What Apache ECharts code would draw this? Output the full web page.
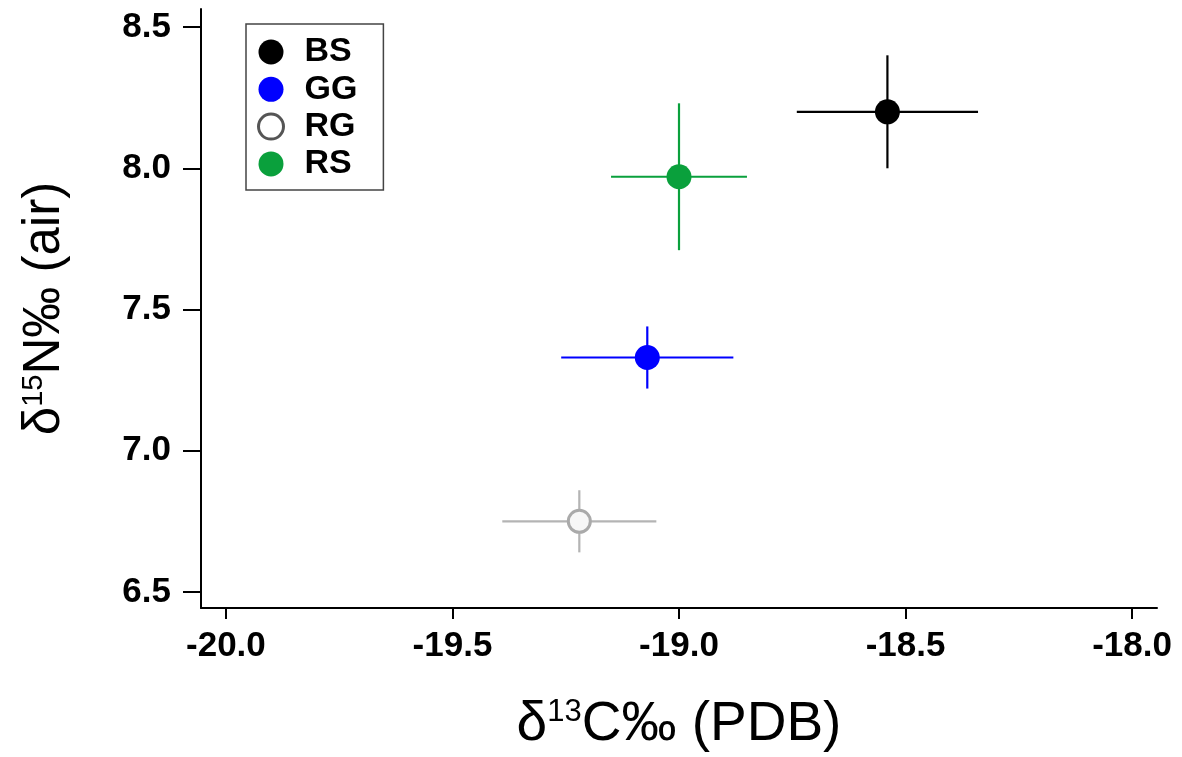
<!DOCTYPE html>
<html>
<head>
<meta charset="utf-8">
<script src="https://cdn.jsdelivr.net/npm/echarts@6/dist/echarts.min.js"></script>
<style>
  html, body { margin: 0; padding: 0; background: #fff; }
  #chart { width: 1182px; height: 757px; }
</style>
</head>
<body>
<div id="chart"></div>
<script>
// Isotope means (‰) and one standard deviation per group
const groups = ['BS', 'GG', 'RG', 'RS'];
const d13C = [-18.54, -19.07, -19.22, -19.00];
const d15N = [8.20, 7.33, 6.75, 7.97];
const sdC = [0.20, 0.19, 0.17, 0.15];
const sdN = [0.20, 0.11, 0.11, 0.26];
const xTicks = [-20.0, -19.5, -19.0, -18.5, -18.0];
const yTicks = [6.5, 7.0, 7.5, 8.0, 8.5];

// Colours per group: marker fill, marker border, error-bar stroke
const fillColors = ['#000000', '#0000ff', '#f7f7f7', '#0aa03c'];
const edgeColors = ['#000000', '#0000ff', '#aaaaaa', '#0aa03c'];
const barColors  = ['#000000', '#0000ff', '#b4b4b4', '#0aa03c'];

const FONT = '"Liberation Sans", Arial, sans-serif';

const chart = echarts.init(document.getElementById('chart'), null, { renderer: 'canvas' });

const errData = groups.map((g, i) => [d13C[i], d15N[i], sdC[i], sdN[i]]);

const pointSeries = groups.map((g, i) => ({
  name: g,
  type: 'scatter',
  z: 5,
  symbol: 'circle',
  symbolSize: g === 'RG' ? 22 : 25,
  data: [[d13C[i], d15N[i]]],
  itemStyle: {
    color: fillColors[i],
    borderColor: edgeColors[i],
    borderWidth: g === 'RG' ? 3 : 0,
    opacity: 1
  },
  emphasis: { disabled: true }
}));

const option = {
  animation: false,
  backgroundColor: '#ffffff',
  grid: { left: 201, right: 25, top: 9, bottom: 149, containLabel: false },
  legend: {
    orient: 'vertical',
    left: 246,
    top: 24,
    padding: [11, 26, 9, 11],
    backgroundColor: '#ffffff',
    borderColor: '#444444',
    borderWidth: 1.5,
    borderRadius: 0,
    itemWidth: 25,
    itemHeight: 25,
    itemGap: 3.3,
    icon: 'circle',
    selectedMode: false,
    textStyle: {
      fontFamily: FONT, fontWeight: 'bold', fontSize: 34, color: '#000',
      padding: [0, 0, 0, 16]
    },
    data: groups.map((g, i) => g === 'RG'
      ? { name: g, itemStyle: { color: '#ffffff', borderColor: '#555555', borderWidth: 3 } }
      : { name: g })
  },
  xAxis: {
    type: 'value',
    min: -20.055,
    max: -17.945,
    name: '{d|δ}{s|13}{d|C‰ (PDB)}',
    nameLocation: 'middle',
    nameGap: 89,
    nameTextStyle: {
      rich: {
        d: { fontFamily: FONT, fontSize: 55, color: '#000', verticalAlign: 'top', lineHeight: 62 },
        s: { fontFamily: FONT, fontSize: 31, color: '#000', verticalAlign: 'top', lineHeight: 62 }
      }
    },
    axisLine: { show: true, onZero: false, lineStyle: { color: '#000', width: 2 } },
    axisTick: { show: true, inside: false, length: 11, customValues: xTicks, lineStyle: { color: '#000', width: 2 } },
    axisLabel: {
      customValues: xTicks,
      margin: 21,
      fontFamily: FONT, fontWeight: 'bold', fontSize: 35, color: '#000',
      formatter: v => v.toFixed(1)
    },
    splitLine: { show: false }
  },
  yAxis: {
    type: 'value',
    min: 6.443,
    max: 8.564,
    name: '{d|δ}{s|15}{d|N‰ (air)}',
    nameLocation: 'middle',
    nameGap: 124,
    nameRotate: 90,
    nameTextStyle: {
      rich: {
        d: { fontFamily: FONT, fontSize: 51, color: '#000', verticalAlign: 'top', lineHeight: 58 },
        s: { fontFamily: FONT, fontSize: 29, color: '#000', verticalAlign: 'top', lineHeight: 58 }
      }
    },
    axisLine: { show: true, onZero: false, lineStyle: { color: '#000', width: 2 } },
    axisTick: { show: true, inside: false, length: 18, customValues: yTicks, lineStyle: { color: '#000', width: 2 } },
    axisLabel: {
      customValues: yTicks,
      margin: 30,
      fontFamily: FONT, fontWeight: 'bold', fontSize: 35, color: '#000',
      formatter: v => v.toFixed(1)
    },
    splitLine: { show: false }
  },
  series: [
    {
      name: 'errorbars',
      type: 'custom',
      z: 2,
      silent: true,
      data: errData,
      renderItem: function (params, api) {
        const x = api.value(0), y = api.value(1), ex = api.value(2), ey = api.value(3);
        const l = api.coord([x - ex, y]);
        const r = api.coord([x + ex, y]);
        const t = api.coord([x, y + ey]);
        const b = api.coord([x, y - ey]);
        const c = barColors[params.dataIndex];
        return {
          type: 'group',
          children: [
            { type: 'line', shape: { x1: l[0], y1: l[1], x2: r[0], y2: r[1] }, style: { stroke: c, lineWidth: 2.2 } },
            { type: 'line', shape: { x1: t[0], y1: t[1], x2: b[0], y2: b[1] }, style: { stroke: c, lineWidth: 2.2 } }
          ]
        };
      }
    }
  ].concat(pointSeries)
};

chart.setOption(option);
</script>
</body>
</html>
